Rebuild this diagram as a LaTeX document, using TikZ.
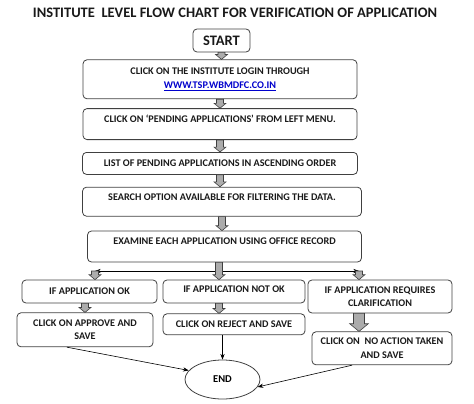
\documentclass[tikz,border=0pt]{standalone}
\usepackage{fontspec}
\setmainfont{Carlito}
\usetikzlibrary{positioning,calc,arrows.meta,shapes.geometric}
\tikzset{>=Stealth, % thin arrows
box/.style={draw=black!75, line width=0.8pt, rounded corners=4pt, align=center, inner sep=2pt,
  font=\fontsize{10.2}{13.5}\selectfont\bfseries, text=black!90}, % every step of the chart
fatarr/.style={draw=black!75, fill=gray!65, line width=0.6pt}, % the thick gray arrows
}
% thick gray arrow pointing down, optional half width of the shaft
\newcommand{\fatdown}[3][3.5]{%
\path[fatarr] let \p1=(#2), \p2=(#3) in
  (\x1-#1pt,\y1) -- (\x1+#1pt,\y1) -- (\x1+#1pt,\y2+1.4*#1pt)
  -- (\x1+1.7*#1pt,\y2+1.4*#1pt) -- (\x1,\y2) -- (\x1-1.7*#1pt,\y2+1.4*#1pt)
  -- (\x1-#1pt,\y2+1.4*#1pt) -- cycle;}

\begin{document}
\begin{tikzpicture}[x=1pt,y=-1pt]
\useasboundingbox (0,0) rectangle (474,404);

\node[font=\fontsize{14.5}{16}\selectfont\bfseries, text=black!90] (title) at (235,13)
  {INSTITUTE\ \ LEVEL FLOW CHART FOR VERIFICATION OF APPLICATION};

\node[box, font=\fontsize{14.5}{16}\selectfont\bfseries, minimum width=57pt, minimum height=23pt] (start) at (221.5,40.5) {START};
\node[box, below=7pt of start, xshift=-1.5pt, minimum width=274pt, minimum height=39pt] (login)
  {CLICK ON THE INSTITUTE LOGIN THROUGH\\ \textcolor{blue!80!black}{\underline{WWW.TSP.WBMDFC.CO.IN}}};
\node[box, below=9pt of login, minimum width=274pt, minimum height=31pt, text depth=10pt] (pending)
  {CLICK ON ‘PENDING APPLICATIONS’ FROM LEFT MENU.};
\node[box, below=12pt of pending, minimum width=275pt, minimum height=22pt] (list)
  {LIST OF PENDING APPLICATIONS IN ASCENDING ORDER};
\node[box, below=12pt of list, xshift=2pt, minimum width=279pt, minimum height=29pt, text depth=9pt] (search)
  {SEARCH OPTION AVAILABLE FOR FILTERING THE DATA.};
\node[box, below=14pt of search, xshift=2.5pt, minimum width=274pt, minimum height=31pt, text depth=10pt] (examine)
  {EXAMINE EACH APPLICATION USING OFFICE RECORD};

\coordinate (split) at (219,271);
\coordinate (sL) at (95,271);
\coordinate (sR) at (359,271);

\node[box, minimum width=135pt, minimum height=23pt] (okbox) at (89.5,291.5) {IF APPLICATION OK};
\node[box, minimum width=142pt, minimum height=23pt, text depth=5pt] (notok) at (234,291.5) {IF APPLICATION NOT OK};
\node[box, minimum width=144pt, minimum height=33pt] (clar) at (380,296.5) {IF APPLICATION REQUIRES\\CLARIFICATION};

\node[box, below=9pt of okbox, xshift=-4.5pt, minimum width=136pt, minimum height=34pt] (approve) {CLICK ON APPROVE AND\\SAVE};
\node[box, below=10pt of notok, minimum width=142pt, minimum height=21pt] (reject) {CLICK ON REJECT AND SAVE};
\node[box, below=18pt of clar, xshift=2pt, minimum width=140pt, minimum height=33pt] (noaction) {CLICK ON\ \ NO ACTION TAKEN\\AND SAVE};

\node[draw=black!75, line width=0.8pt, ellipse, minimum width=75pt, minimum height=39pt, inner sep=0pt,
  font=\fontsize{10.5}{12}\selectfont\bfseries] (end) at (222.5,379.5) {END};

% main column
\fatdown{start.south}{login.north}
\fatdown{login.south}{pending.north}
\fatdown{pending.south}{list.north}
\fatdown{list.south}{search.north}
\fatdown{search.south}{search.south |- examine.north}

% three branches
\draw[->, line width=0.6pt] (split) -- (sL);
\draw[->, line width=0.6pt] (split) -- (sR);
\fatdown{split |- examine.south}{split |- notok.north}
\fatdown{sL}{sL |- okbox.north}
\fatdown{sR}{sR |- clar.north}

\fatdown{approve.north |- okbox.south}{approve.north}
\fatdown{split |- notok.south}{split |- reject.north}
\fatdown[5.5]{sR |- clar.south}{sR |- noaction.north}

% to the end
\draw[->, line width=0.6pt] ([xshift=-18pt]approve.south) -- (end.165);
\draw[->, line width=0.6pt] (end.north |- reject.south) -- (end.north);
\draw[->, line width=0.6pt] ([xshift=-30pt]noaction.south) -- (end.-12);
\end{tikzpicture}
\end{document}
